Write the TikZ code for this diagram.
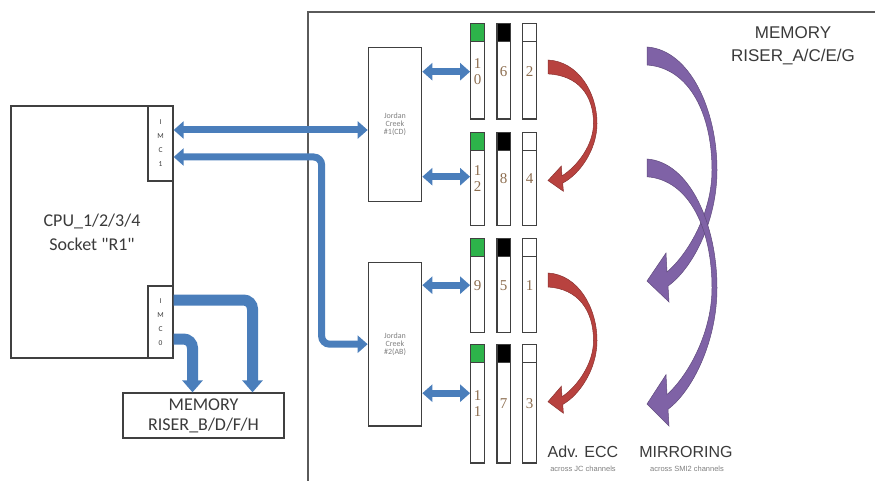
\documentclass[tikz,border=0pt]{standalone}
\usepackage{fontspec}
\setmainfont{Carlito}
\newfontfamily\cpufont{Carlito}
\newfontfamily\arialfont{Liberation Sans}
\newfontfamily\slotfont{Liberation Serif}
\usetikzlibrary{arrows.meta,positioning,calc}
\definecolor{linegray}{HTML}{404040}
\definecolor{framegray}{HTML}{5A5A5A}
\definecolor{textgray}{HTML}{3A3A3A}
\definecolor{busblue}{HTML}{4A7EBB}
\definecolor{slotgreen}{HTML}{2DB34A}
\definecolor{digitbrown}{HTML}{8C6D4F}
\definecolor{eccred}{HTML}{B8423F}
\definecolor{mirpurple}{HTML}{7F62A6}
\tikzset{
	box/.style={draw=linegray, line width=1.3pt, inner sep=0pt, align=center, text=textgray},
	slot/.style={box, line width=1.2pt, minimum width=13.6pt, font=\fontsize{15}{16}\slotfont, text=digitbrown},
	slottop/.style={path picture={
		\fill[#1] (path picture bounding box.north west) rectangle ([yshift=-18pt]path picture bounding box.north east);
		\draw[linegray, line width=1.2pt] ([yshift=-18pt]path picture bounding box.north west) -- ([yshift=-18pt]path picture bounding box.north east);
	}},
	bus/.style={draw=busblue, line width=7pt, {Triangle[width=17pt,length=10pt]}-{Triangle[width=17pt,length=10pt]}},
	widebus/.style={draw=busblue, line width=11pt, -{Triangle[width=20pt,length=12pt]}, rounded corners=9pt},
	pics/bendarrow/.style 2 args={code={
		\filldraw[fill=#1, draw=#1!75!black, line width=0.5pt]
			(0,0) .. controls (43,3) and (70,63) .. (70,123)
			.. controls (70,175) and (45,222) .. (21,239)
			-- (22,255) -- (0,234) -- (19,206) -- (20,225)
			.. controls (42,206) and (65,165) .. (65,123)
			.. controls (65,68) and (43,{#2+3}) .. (0,#2) -- cycle;
	}}
}
\begin{document}
\begin{tikzpicture}[x=1pt, y=-1pt]
	\useasboundingbox (0,0) rectangle (875,481);
	\draw[framegray, line width=2pt] (875,12) -- (308,12) -- (308,481);
	
	\node[box, minimum width=162pt, minimum height=252pt, font=\fontsize{18}{24}\cpufont] (cpu) at (92,232) {CPU\_1/2/3/4\\Socket "R1"};
	\node[box, minimum width=25pt, minimum height=75pt, font=\fontsize{7.5}{14}\selectfont] (imc1) at (160.5,143.5) {I\\M\\C\\1};
	\node[box, minimum width=25pt, minimum height=72pt, font=\fontsize{7.5}{14}\selectfont] (imc0) at (160.5,322) {I\\M\\C\\0};
	\node[box, minimum width=161pt, minimum height=45pt, font=\fontsize{18}{20}\selectfont] (riserbdfh) at (203.5,415.5) {MEMORY\\RISER\_B/D/F/H};
	
	\node[box, minimum width=53.4pt, minimum height=154pt, font=\fontsize{8}{8}\selectfont, text=gray] (jc1) at (395,124.7) {Jordan\\Creek\\\#1(CD)};
	\node[box, minimum width=53.4pt, minimum height=163.7pt, font=\fontsize{8}{8}\selectfont, text=gray] (jc2) at (395,344.2) {Jordan\\Creek\\\#2(AB)};
	
	\node[slot, slottop=slotgreen, minimum height=95.7pt] (s10) at (477.5,71.2) {1\\0};
	\node[slot, slottop=black, minimum height=95.7pt, right=11.4pt of s10] (s6) {6};
	\node[slot, slottop=white, minimum height=95.7pt, right=11pt of s6] (s2) {2};
	\node[slot, slottop=slotgreen, minimum height=93.4pt] (s12) at (477.5,179) {1\\2};
	\node[slot, slottop=black, minimum height=93.4pt, right=11.4pt of s12] (s8) {8};
	\node[slot, slottop=white, minimum height=93.4pt, right=11pt of s8] (s4) {4};
	\node[slot, slottop=slotgreen, minimum height=94.4pt] (s9) at (477.5,285.5) {9};
	\node[slot, slottop=black, minimum height=94.4pt, right=11.4pt of s9] (s5) {5};
	\node[slot, slottop=white, minimum height=94.4pt, right=11pt of s5] (s1) {1};
	\node[slot, slottop=slotgreen, minimum height=118.7pt] (s11) at (477.5,403.7) {1\\1};
	\node[slot, slottop=black, minimum height=118.7pt, right=11.4pt of s11] (s7) {7};
	\node[slot, slottop=white, minimum height=118.7pt, right=11pt of s7] (s3) {3};
	
	\draw[bus] ($(imc1.east)+(0,-13.5)$) coordinate (b1) -- (b1 -| jc1.west);
	\draw[bus, rounded corners=8pt] ($(imc1.east)+(0,13.5)$) -| ($(jc2.west)+(-46,0)$) -- (jc2.west);
	\draw[widebus] ($(imc0.east)+(0,-22)$) -| ($(riserbdfh.north)+(49,0)$);
	\draw[widebus] ($(imc0.east)+(0,17)$) -| ($(riserbdfh.north)+(-11,0)$);
	
	\draw[bus] ($(jc1.east)+(0,-53)$) coordinate (r1) -- (r1 -| s10.west);
	\draw[bus] ($(jc1.east)+(0,52)$) coordinate (r2) -- (r2 -| s12.west);
	\draw[bus] ($(jc2.east)+(0,-59)$) coordinate (r3) -- (r3 -| s9.west);
	\draw[bus] ($(jc2.east)+(0,49)$) coordinate (r4) -- (r4 -| s11.west);
	
	\pic[xscale=0.7, yscale=0.515] at (548,60) {bendarrow={eccred}{27}};
	\pic[xscale=0.7, yscale=0.55] at (548,273) {bendarrow={eccred}{25.5}};
	\pic at (647,47) {bendarrow={mirpurple}{18}};
	\pic[yscale=1.047] at (647,159) {bendarrow={mirpurple}{17}};
	
	\node[font=\fontsize{17}{23}\arialfont, text=textgray, align=center] (riseraceg) at (793,46) {MEMORY\\RISER\_A/C/E/G};
	\node[font=\fontsize{16}{16}\arialfont, text=textgray] (ecclabel) at (583,452) {Adv. ECC};
	\node[font=\fontsize{7.5}{7.5}\arialfont, text=gray] (eccnote) at (583,469) {across JC channels};
	\node[font=\fontsize{16}{16}\arialfont, text=textgray] (mirlabel) at (686,452) {MIRRORING};
	\node[font=\fontsize{7.5}{7.5}\arialfont, text=gray] (mirnote) at (687,469) {across SMI2 channels};
\end{tikzpicture}
\end{document}
